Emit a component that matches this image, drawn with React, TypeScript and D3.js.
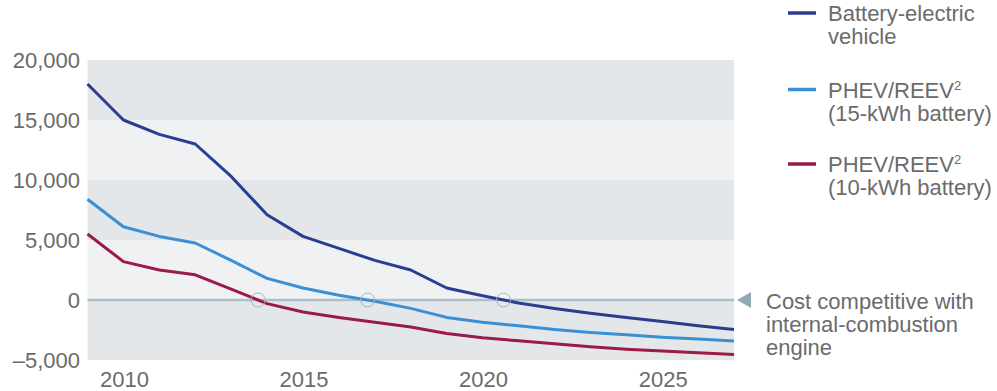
import React, { useEffect, useRef } from "react";
import * as d3 from "d3";

// Years covered by the projection
const years: number[] = [
  2009, 2010, 2011, 2012, 2013, 2014, 2015, 2016, 2017, 2018,
  2019, 2020, 2021, 2022, 2023, 2024, 2025, 2026, 2027,
];

// Cost premium vs. internal-combustion vehicle, $
const bevValues: number[] = [
  18000, 15000, 13800, 13000, 10300, 7100, 5300, 4300, 3300, 2500,
  1000, 350, -250, -700, -1100, -1450, -1800, -2150, -2450,
];
const phev15Values: number[] = [
  8400, 6100, 5300, 4750, 3300, 1800, 1000, 400, -100, -700,
  -1450, -1850, -2150, -2450, -2700, -2900, -3100, -3250, -3420,
];
const phev10Values: number[] = [
  5500, 3200, 2500, 2100, 900, -300, -1000, -1450, -1850, -2250,
  -2800, -3150, -3400, -3650, -3900, -4100, -4250, -4400, -4550,
];

const seriesNames: string[][] = [
  ["Battery-electric", "vehicle"],
  ["PHEV/REEV|2", "(15-kWh battery)"],
  ["PHEV/REEV|2", "(10-kWh battery)"],
];

const yTicks: number[] = [-5000, 0, 5000, 10000, 15000, 20000];
const xTicks: number[] = [2010, 2015, 2020, 2025];
const annotationLines: string[] = [
  "Cost competitive with",
  "internal-combustion",
  "engine",
];

const W = 997;
const H = 391;
const FONT = "'Liberation Sans', Arial, Helvetica, sans-serif";
const TEXT = "#6b6b6b";
const COLORS = ["#2a3d91", "#3b8fd5", "#9c1a4a"];
const FS = 22;

export default function App() {
  const ref = useRef<SVGSVGElement>(null);

  useEffect(() => {
    const svg = d3.select(ref.current);
    svg.selectAll("*").remove();

    const left = 87.5;
    const right = 734;
    const top = 60;
    const bottom = 360;

    const x = d3.scaleLinear().domain([2009, 2027]).range([left, right]);
    const y = d3.scaleLinear().domain([-5000, 20000]).range([bottom, top]);

    // Alternating horizontal bands
    const bands = d3.pairs(yTicks);
    svg
      .append("g")
      .selectAll("rect")
      .data(bands)
      .join("rect")
      .attr("x", left)
      .attr("width", right - left)
      .attr("y", (d) => y(d[1]))
      .attr("height", (d) => y(d[0]) - y(d[1]))
      .attr("fill", (_, i) => (i % 2 === 0 ? "#e4e7ea" : "#f0f1f3"));

    // Break-even line
    svg
      .append("line")
      .attr("x1", left)
      .attr("x2", right)
      .attr("y1", y(0))
      .attr("y2", y(0))
      .attr("stroke", "#adc0ca")
      .attr("stroke-width", 2.5);

    // Y axis labels
    svg
      .append("g")
      .selectAll("text")
      .data(yTicks)
      .join("text")
      .attr("x", 80)
      .attr("y", (d) => y(d))
      .attr("dy", "0.36em")
      .attr("text-anchor", "end")
      .attr("font-family", FONT)
      .attr("font-size", FS)
      .attr("fill", TEXT)
      .text((d) => (d < 0 ? "\u2013" + d3.format(",")(-d) : d3.format(",")(d)));

    // X axis labels
    svg
      .append("g")
      .selectAll("text")
      .data(xTicks)
      .join("text")
      .attr("x", (d) => x(d) + 1)
      .attr("y", 387)
      .attr("text-anchor", "middle")
      .attr("font-family", FONT)
      .attr("font-size", FS)
      .attr("fill", TEXT)
      .text((d) => String(d));

    const allSeries = [bevValues, phev15Values, phev10Values];
    const line = d3
      .line<number>()
      .x((_, i) => x(years[i]))
      .y((d) => y(d));

    // Zero-crossing markers
    const crossings: number[] = [];
    allSeries.forEach((vals) => {
      for (let i = 0; i < vals.length - 1; i++) {
        if (vals[i] >= 0 && vals[i + 1] < 0) {
          const t = vals[i] / (vals[i] - vals[i + 1]);
          crossings.push(years[i] + t * (years[i + 1] - years[i]));
          break;
        }
      }
    });

    allSeries.forEach((vals, k) => {
      svg
        .append("path")
        .datum(vals)
        .attr("d", line)
        .attr("fill", "none")
        .attr("stroke", COLORS[k])
        .attr("stroke-width", 3)
        .attr("stroke-linejoin", "round");
    });

    svg
      .append("g")
      .selectAll("circle")
      .data(crossings)
      .join("circle")
      .attr("cx", (d) => x(d))
      .attr("cy", y(0))
      .attr("r", 7)
      .attr("fill", "none")
      .attr("stroke", "#a3b6c2")
      .attr("stroke-width", 1);

    // Legend
    const legendY = [13, 89.5, 164];
    seriesNames.forEach((lines, k) => {
      const g = svg.append("g");
      g.append("line")
        .attr("x1", 788)
        .attr("x2", 816)
        .attr("y1", legendY[k])
        .attr("y2", legendY[k])
        .attr("stroke", COLORS[k])
        .attr("stroke-width", 3.5);
      lines.forEach((ln, j) => {
        const t = g
          .append("text")
          .attr("x", 828)
          .attr("y", legendY[k] + 8 + j * 23)
          .attr("font-family", FONT)
          .attr("font-size", FS)
          .attr("fill", TEXT);
        const [main, sup] = ln.split("|");
        t.append("tspan").text(main);
        if (sup) {
          t.append("tspan")
            .attr("font-size", 13)
            .attr("dy", -8)
            .text(sup);
        }
      });
    });

    // Break-even annotation
    const ty = y(0);
    svg
      .append("path")
      .attr("d", `M737,${ty} L751,${ty - 8} L751,${ty + 8} Z`)
      .attr("fill", "#8fa9b7");
    annotationLines.forEach((ln, j) => {
      svg
        .append("text")
        .attr("x", 766)
        .attr("y", 309 + j * 23)
        .attr("font-family", FONT)
        .attr("font-size", FS)
        .attr("fill", TEXT)
        .text(ln);
    });
  }, []);

  return (
    <svg
      ref={ref}
      width={W}
      height={H}
      style={{ position: "absolute", left: 0, top: 0, background: "#fff" }}
    />
  );
}
